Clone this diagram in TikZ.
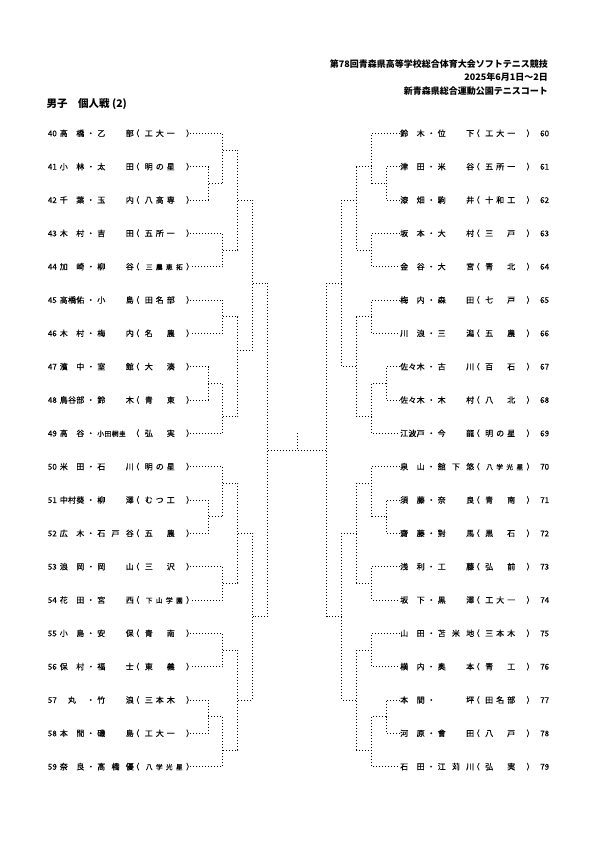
\documentclass[tikz,border=0pt]{standalone}
\usepackage{fontspec}
\setmainfont{Noto Sans CJK JP}
\newfontfamily\rowfont{Noto Sans CJK JP}[FakeBold=0.3]
\makeatletter
% spread the letters of a name over its box
\def\spr#1{\spr@a#1\relax}
\def\spr@a#1{\ifx\relax#1\else#1\expandafter\spr@b\fi}
\def\spr@b#1{\ifx\relax#1\else\hfill#1\expandafter\spr@b\fi}
\makeatother
\newcommand\fld[2]{\makebox[#1][s]{\spr{#2}}}
\newcommand\smfld[2]{{\fontsize{6.8pt}{7pt}\selectfont\fld{#1}{#2}}}
\newcommand\pair[3]{%
  \fld{24.5pt}{#1}%
  \makebox[13pt]{・}%
  \fld{36.5pt}{#2}%
  \makebox[5.5pt][r]{（}\hspace{5.5pt}%
  \fld{30pt}{#3}\hspace{11.4pt}%
  \makebox[3.6pt][l]{）}}
\newcommand\lrow[4]{\makebox[13pt][r]{#1}\hspace{3pt}\pair{#2}{#3}{#4}}
\newcommand\rrow[4]{\pair{#2}{#3}{#4}\hspace{10pt}#1}
\begin{document}
\begin{tikzpicture}[
        x=1pt,y=1pt,
        row/.style={inner sep=0pt,text height=7pt,text depth=1pt,
            font=\rowfont\fontsize{8pt}{9pt}\selectfont},
        lrow/.style={row,anchor=east},
        rrow/.style={row,anchor=west},
        head/.style={inner sep=0pt,anchor=east,font=\fontsize{9pt}{10pt}\selectfont\bfseries},
        bk/.style={line width=0.8pt,dash pattern=on 1pt off 2pt},
        ]
    \useasboundingbox (0,0) rectangle (595,-842);
    \node[head] (h1) at (548,-64.3) {第78回青森県高等学校総合体育大会ソフトテニス競技};
    \node[head] (h2) at (548,-77.5) {2025年6月1日～2日};
    \node[head] (h3) at (548,-90.8) {新青森県総合運動公園テニスコート};
    \node[inner sep=0pt,anchor=west,font=\fontsize{10.5pt}{12pt}\selectfont\bfseries]
        (ttl) at (46.5,-104.5) {男子　個人戦 (2)};
    \begin{scope}[shift={(0,-133.33)},y=-33.333pt]
    % left half
    \node[lrow] (p40) at (190,0) {\lrow{40}{高橋}{乙部}{工大一}};
    \node[lrow] (p41) at (190,1) {\lrow{41}{小林}{太田}{明の星}};
    \node[lrow] (p42) at (190,2) {\lrow{42}{千葉}{玉内}{八高専}};
    \node[lrow] (p43) at (190,3) {\lrow{43}{木村}{吉田}{五所一}};
    \node[lrow] (p44) at (190,4) {\lrow{44}{加崎}{柳谷}{{\hspace{1pt}\smfld{37pt}{三農恵拓}}}};
    \node[lrow] (p45) at (190,5) {\lrow{45}{高橋佑}{小島}{田名部}};
    \node[lrow] (p46) at (190,6) {\lrow{46}{木村}{梅内}{名農}};
    \node[lrow] (p47) at (190,7) {\lrow{47}{濱中}{室館}{大湊}};
    \node[lrow] (p48) at (190,8) {\lrow{48}{鳥谷部}{鈴木}{青東}};
    \node[lrow] (p49) at (190,9) {\lrow{49}{高谷}{{\smfld{28.5pt}{小田桐圭}}}{弘実}};
    \node[lrow] (p50) at (190,10) {\lrow{50}{米田}{石川}{明の星}};
    \node[lrow] (p51) at (190,11) {\lrow{51}{中村葵}{柳澤}{むつ工}};
    \node[lrow] (p52) at (190,12) {\lrow{52}{広木}{石戸谷}{五農}};
    \node[lrow] (p53) at (190,13) {\lrow{53}{浪岡}{岡山}{三沢}};
    \node[lrow] (p54) at (190,14) {\lrow{54}{花田}{宮西}{{\hspace{1pt}\smfld{37pt}{下山学園}}}};
    \node[lrow] (p55) at (190,15) {\lrow{55}{小島}{安保}{青南}};
    \node[lrow] (p56) at (190,16) {\lrow{56}{保村}{福士}{東義}};
    \node[lrow] (p57) at (190,17) {\lrow{57}{{\hfill 丸\hfill}}{竹浪}{三本木}};
    \node[lrow] (p58) at (190,18) {\lrow{58}{本間}{磯島}{工大一}};
    \node[lrow] (p59) at (190,19) {\lrow{59}{奈良}{髙橋優}{{\hspace{1pt}\smfld{37pt}{八学光星}}}};
    % right half
    \node[rrow] (p60) at (400,0) {\rrow{60}{鈴木}{位下}{工大一}};
    \node[rrow] (p61) at (400,1) {\rrow{61}{津田}{米谷}{五所一}};
    \node[rrow] (p62) at (400,2) {\rrow{62}{漆畑}{駒井}{十和工}};
    \node[rrow] (p63) at (400,3) {\rrow{63}{坂本}{大村}{三戸}};
    \node[rrow] (p64) at (400,4) {\rrow{64}{金谷}{大宮}{青北}};
    \node[rrow] (p65) at (400,5) {\rrow{65}{梅内}{森田}{七戸}};
    \node[rrow] (p66) at (400,6) {\rrow{66}{川浪}{三潟}{五農}};
    \node[rrow] (p67) at (400,7) {\rrow{67}{佐々木}{古川}{百石}};
    \node[rrow] (p68) at (400,8) {\rrow{68}{佐々木}{木村}{八北}};
    \node[rrow] (p69) at (400,9) {\rrow{69}{江波戸}{今龍}{明の星}};
    \node[rrow] (p70) at (400,10) {\rrow{70}{泉山}{舘下悠}{{\hspace{1pt}\smfld{37pt}{八学光星}}}};
    \node[rrow] (p71) at (400,11) {\rrow{71}{須藤}{奈良}{青南}};
    \node[rrow] (p72) at (400,12) {\rrow{72}{齋藤}{對馬}{黒石}};
    \node[rrow] (p73) at (400,13) {\rrow{73}{浅利}{工藤}{弘前}};
    \node[rrow] (p74) at (400,14) {\rrow{74}{坂下}{黒澤}{工大一}};
    \node[rrow] (p75) at (400,15) {\rrow{75}{山田}{苫米地}{三本木}};
    \node[rrow] (p76) at (400,16) {\rrow{76}{横内}{奥本}{青工}};
    \node[rrow] (p77) at (400,17) {\rrow{77}{本間}{{\hfill 坪}}{田名部}};
    \node[rrow] (p78) at (400,18) {\rrow{78}{河原}{會田}{八戸}};
    \node[rrow] (p79) at (400,19) {\rrow{79}{石田}{江苅川}{弘実}};
    % left bracket
    \coordinate (m4142) at (208.3,1.5);
    \coordinate (m40) at (222.8,0.5);
    \coordinate (m4344) at (222.8,3.5);
    \coordinate (mA) at (237.8,2);
    \coordinate (m4546) at (222.8,5.5);
    \coordinate (m4748) at (208.3,7.5);
    \coordinate (m49) at (222.8,8.5);
    \coordinate (mB) at (237.8,6.5);
    \coordinate (mAB) at (252.8,4.5);
    \coordinate (m5152) at (208.3,11.5);
    \coordinate (m50) at (222.8,10.5);
    \coordinate (m5354) at (222.8,13.5);
    \coordinate (mC) at (237.8,12);
    \coordinate (m5556) at (222.8,15.5);
    \coordinate (m5758) at (208.3,17.5);
    \coordinate (m59) at (222.8,18.5);
    \coordinate (mD) at (237.8,17);
    \coordinate (mCD) at (252.8,14.5);
    \coordinate (lfin) at (267.8,9.5);
    \draw[bk] (p41) -| (m4142) |- (p42);
    \draw[bk] (p40) -| (m40) |- (m4142);
    \draw[bk] (p43) -| (m4344) |- (p44);
    \draw[bk] (m40) -| (mA) |- (m4344);
    \draw[bk] (p45) -| (m4546) |- (p46);
    \draw[bk] (p47) -| (m4748) |- (p48);
    \draw[bk] (m4748) -| (m49) |- (p49);
    \draw[bk] (m4546) -| (mB) |- (m49);
    \draw[bk] (mA) -| (mAB) |- (mB);
    \draw[bk] (p51) -| (m5152) |- (p52);
    \draw[bk] (p50) -| (m50) |- (m5152);
    \draw[bk] (p53) -| (m5354) |- (p54);
    \draw[bk] (m50) -| (mC) |- (m5354);
    \draw[bk] (p55) -| (m5556) |- (p56);
    \draw[bk] (p57) -| (m5758) |- (p58);
    \draw[bk] (m5758) -| (m59) |- (p59);
    \draw[bk] (m5556) -| (mD) |- (m59);
    \draw[bk] (mC) -| (mCD) |- (mD);
    \draw[bk] (mAB) -| (lfin) |- (mCD);
    % right bracket
    \coordinate (n6162) at (386.3,1.5);
    \coordinate (n60) at (371.8,1);
    \coordinate (n6364) at (371.8,3.5);
    \coordinate (nA) at (356.8,2);
    \coordinate (n6566) at (371.8,5.5);
    \coordinate (n6768) at (386.3,7.5);
    \coordinate (n69) at (371.8,8.5);
    \coordinate (nB) at (356.8,7);
    \coordinate (nAB) at (341.8,4.5);
    \coordinate (n7172) at (386.3,11.5);
    \coordinate (n70) at (371.8,10.5);
    \coordinate (n7374) at (371.8,13.5);
    \coordinate (nC) at (356.8,12);
    \coordinate (n7576) at (371.8,15.5);
    \coordinate (n7778) at (386.3,17.5);
    \coordinate (n79) at (371.8,18.5);
    \coordinate (nD) at (356.8,17);
    \coordinate (nCD) at (341.8,14.5);
    \coordinate (rfin) at (326.8,9.5);
    \draw[bk] (p61) -| (n6162) |- (p62);
    \draw[bk] (p60) -| (n60) |- (n6162);
    \draw[bk] (p63) -| (n6364) |- (p64);
    \draw[bk] (n60) -| (nA) |- (n6364);
    \draw[bk] (p65) -| (n6566) |- (p66);
    \draw[bk] (p67) -| (n6768) |- (p68);
    \draw[bk] (n6768) -| (n69) |- (p69);
    \draw[bk] (n6566) -| (nB) |- (n69);
    \draw[bk] (nA) -| (nAB) |- (nB);
    \draw[bk] (p71) -| (n7172) |- (p72);
    \draw[bk] (p70) -| (n70) |- (n7172);
    \draw[bk] (p73) -| (n7374) |- (p74);
    \draw[bk] (n70) -| (nC) |- (n7374);
    \draw[bk] (p75) -| (n7576) |- (p76);
    \draw[bk] (p77) -| (n7778) |- (p78);
    \draw[bk] (n7778) -| (n79) |- (p79);
    \draw[bk] (n7576) -| (nD) |- (n79);
    \draw[bk] (nC) -| (nCD) |- (nD);
    \draw[bk] (nAB) -| (rfin) |- (nCD);
    % final
    \coordinate (top) at (297.3,9);
    \draw[bk] (lfin) -- (rfin);
    \draw[bk] (top) -- (top |- lfin);
    \end{scope}
\end{tikzpicture}
\end{document}
